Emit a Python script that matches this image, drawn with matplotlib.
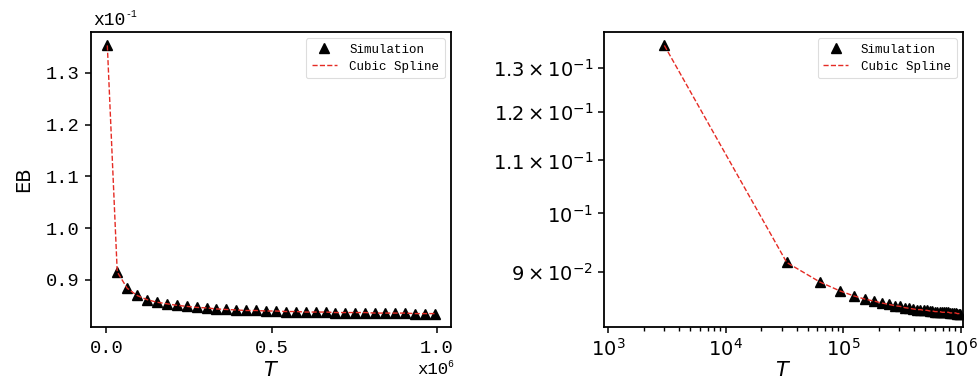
import matplotlib
matplotlib.use("Agg")
import matplotlib.pyplot as plt
from matplotlib.ticker import FuncFormatter, FixedLocator

# Horizon lengths T and the simulated EB values
T = [3000, 33000, 63000, 93000, 123000, 153000, 183000, 213000, 243000,
     273000, 303000, 333000, 363000, 393000, 423000, 453000, 483000,
     513000, 543000, 573000, 603000, 633000, 663000, 693000, 723000,
     753000, 783000, 813000, 843000, 873000, 903000, 933000, 963000, 993000]
EB = [0.1353, 0.09155, 0.0884, 0.0870, 0.0862, 0.0857, 0.0854, 0.0851,
      0.0849, 0.0847, 0.0846, 0.0844, 0.0843, 0.0842, 0.0841, 0.0841,
      0.0840, 0.0840, 0.0839, 0.0839, 0.0838, 0.0838, 0.0838, 0.0837,
      0.0837, 0.0837, 0.0837, 0.0836, 0.0836, 0.0836, 0.0836, 0.0835,
      0.0835, 0.0835]

left_yticks = [0.09, 0.10, 0.11, 0.12, 0.13]
left_xticks = [0.0, 0.5e6, 1.0e6]

MONO = "Liberation Mono"
SANS = "DejaVu Sans"

fig = plt.figure(figsize=(9.77, 3.76), dpi=100)
ax1 = fig.add_axes([0.0931, 0.1303, 0.3685, 0.7846])
ax2 = fig.add_axes([0.6185, 0.1303, 0.3670, 0.7846])


def draw_series(ax):
    ax.plot(T, EB, linestyle="none", marker="^", color="black",
            markersize=7.5, label="Simulation", zorder=2)
    ax.plot(T, EB, linestyle="--", color="#e52b24", linewidth=1.0,
            label="Cubic Spline", zorder=3)
    leg = ax.legend(loc="upper right", prop={"family": MONO, "size": 9},
                    numpoints=1, handlelength=2.0, borderpad=0.45,
                    labelspacing=0.4, handletextpad=1.0,
                    framealpha=1.0, edgecolor="#dddddd")
    leg.get_frame().set_linewidth(0.8)
    for s in ax.spines.values():
        s.set_linewidth(1.3)
    ax.tick_params(width=1.1, length=4.5)
    ax.set_xlabel("$T$", fontsize=15, labelpad=0)


# Linear panel
draw_series(ax1)
ax1.yaxis.set_major_locator(FixedLocator(left_yticks))
ax1.xaxis.set_major_locator(FixedLocator(left_xticks))
ax1.yaxis.set_major_formatter(FuncFormatter(lambda v, p: f"{v * 10:.1f}"))
ax1.xaxis.set_major_formatter(FuncFormatter(lambda v, p: f"{v / 1e6:.1f}"))
ax1.tick_params(axis="x", pad=5)
for lab in ax1.get_xticklabels() + ax1.get_yticklabels():
    lab.set_fontfamily(MONO)
    lab.set_fontsize(13.5)
ax1.set_ylabel("EB", fontsize=14, family=SANS, labelpad=9)
ax1.xaxis.set_label_coords(0.5, -0.115)

# Scale markers for the linear panel
ax1.text(0.005, 1.01, "x10", transform=ax1.transAxes, family=MONO,
         fontsize=13, ha="left", va="bottom")
ax1.text(0.095, 1.045, "-1", transform=ax1.transAxes, family=MONO,
         fontsize=7, ha="left", va="bottom")
ax1.text(0.905, -0.143, "x10", transform=ax1.transAxes, family=MONO,
         fontsize=12.5, ha="left", va="center")
ax1.text(0.99, -0.124, "6", transform=ax1.transAxes, family=MONO,
         fontsize=7, ha="left", va="center")

# Log-log panel
draw_series(ax2)
ax2.set_xscale("log")
ax2.set_yscale("log")
ax2.set_xlim(925, 1.04e6)
ax2.tick_params(axis="both", which="both", labelsize=14)
ax2.tick_params(which="minor", width=1.0, length=3)
ax2.tick_params(axis="y", which="both", length=4.5, width=1.1)
ax2.xaxis.set_label_coords(0.5, -0.115)

fig.savefig("out.png", dpi=100)
